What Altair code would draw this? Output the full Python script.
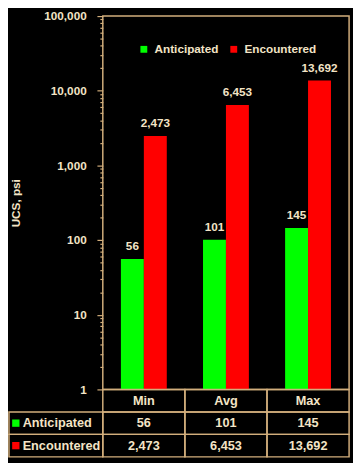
import altair as alt
import pandas as pd

categories = ["Min", "Avg", "Max"]
series = ["Anticipated", "Encountered"]
anticipated = [56, 101, 145]
encountered = [2473, 6453, 13692]
colors = ["#00ff00", "#ff0000"]
major_ticks = [1, 10, 100, 1000, 10000, 100000]
minor_ticks = [m * 10 ** e for e in range(5) for m in range(2, 10)]
table_rows = ["header", "Anticipated", "Encountered"]

TXT = "#f3e4c6"
LINE = "#d2ae7c"
FONT = "Liberation Sans"

recs = []
for i, c in enumerate(categories):
    recs.append({"cat": c, "series": "Anticipated", "value": anticipated[i]})
    recs.append({"cat": c, "series": "Encountered", "value": encountered[i]})
bars_df = pd.DataFrame(recs)

cells = []
for i, c in enumerate(categories):
    cells.append({"cat": c, "row": "header", "text": c})
    cells.append({"cat": c, "row": "Anticipated", "text": f"{anticipated[i]:,}"})
    cells.append({"cat": c, "row": "Encountered", "text": f"{encountered[i]:,}"})
cells_df = pd.DataFrame(cells)
labels_df = pd.DataFrame({"row": series, "series": series})

W, H = 252, 382

x_enc = alt.X("cat:N", sort=categories,
              scale=alt.Scale(type="band", domain=categories, paddingInner=0, paddingOuter=0),
              axis=None)
xoff = alt.XOffset("series:N", sort=series,
                   scale=alt.Scale(domain=series, paddingInner=0, paddingOuter=0.79))
color = alt.Color("series:N", sort=series,
                  scale=alt.Scale(domain=series, range=colors),
                  legend=alt.Legend(title=None, orient="none", legendX=36, legendY=28,
                                    direction="horizontal", symbolType="square",
                                    symbolSize=49, symbolStrokeWidth=0,
                                    labelFontSize=12, labelFontWeight="bold",
                                    labelColor=TXT, labelFont=FONT, labelOffset=5,
                                    columnPadding=9, padding=0))

major_test = "indexof([1,10,100,1000,10000,100000], datum.value) >= 0"
y_val = alt.Y("value:Q", stack=None,
              scale=alt.Scale(type="log", domain=[1, 100000]),
              axis=alt.Axis(title="UCS, psi", values=major_ticks + minor_ticks,
                            labelExpr=f"{major_test} ? format(datum.value, ',') : ''",
                            labelOverlap=False, labelFlush=False, labelBound=False,
                            grid=False, domain=False,
                            tickColor=LINE, tickWidth=1.2,
                            tickSize={"condition": {"test": major_test, "value": 6}, "value": 3},
                            labelPadding=11, labelColor=TXT, labelFontSize=12,
                            labelFontWeight="bold", labelFont=FONT,
                            titleColor=TXT, titleFontSize=12, titleFontWeight="bold",
                            titleFont=FONT, titlePadding=22))

bars = alt.Chart(bars_df).mark_bar(clip=False).encode(x=x_enc, xOffset=xoff, y=y_val, color=color)
vals = alt.Chart(bars_df).mark_text(
    fontSize=12, fontWeight="bold", font=FONT, color=TXT, baseline="alphabetic", dy=-9
).encode(x=x_enc, xOffset=xoff, y=alt.Y("value:Q", stack=None),
         text=alt.Text("value:Q", format=","))
plot = alt.layer(bars, vals)

y_row = alt.Y("row:N", sort=table_rows,
              scale=alt.Scale(type="band", domain=table_rows, range=[H, H + 69],
                              paddingInner=0, paddingOuter=0),
              axis=None)

cell_rects = alt.Chart(cells_df).mark_rect(
    fillOpacity=0, stroke=LINE, strokeWidth=1.5
).encode(x=x_enc, y=y_row)
cell_text = alt.Chart(cells_df).mark_text(
    fontSize=13, fontWeight="bold", font=FONT, color=TXT
).encode(x=x_enc, y=y_row, text="text:N")

label_rects = alt.Chart(labels_df).mark_rect(
    fillOpacity=0, stroke=LINE, strokeWidth=1.5
).encode(x=alt.value(-96), x2=alt.value(0), y=y_row)
label_sq = alt.Chart(labels_df).mark_square(size=56, opacity=1).encode(
    x=alt.value(-89), y=y_row, color=color)
label_text = alt.Chart(labels_df).mark_text(
    fontSize=13, fontWeight="bold", font=FONT, color=TXT, align="left"
).encode(x=alt.value(-82), y=y_row, text="row:N")
table = alt.layer(cell_rects, cell_text, label_rects, label_sq, label_text)

chart = alt.layer(plot, table).resolve_scale(y="independent").properties(
    width=W, height=H,
    background="black",
    autosize=alt.AutoSizeParams(type="none"),
    padding={"left": 97, "top": 3, "right": 4, "bottom": 70},
).configure_view(stroke=LINE, strokeWidth=1.5)

chart.save("out.html", embed_options={"renderer": "svg", "actions": False})
